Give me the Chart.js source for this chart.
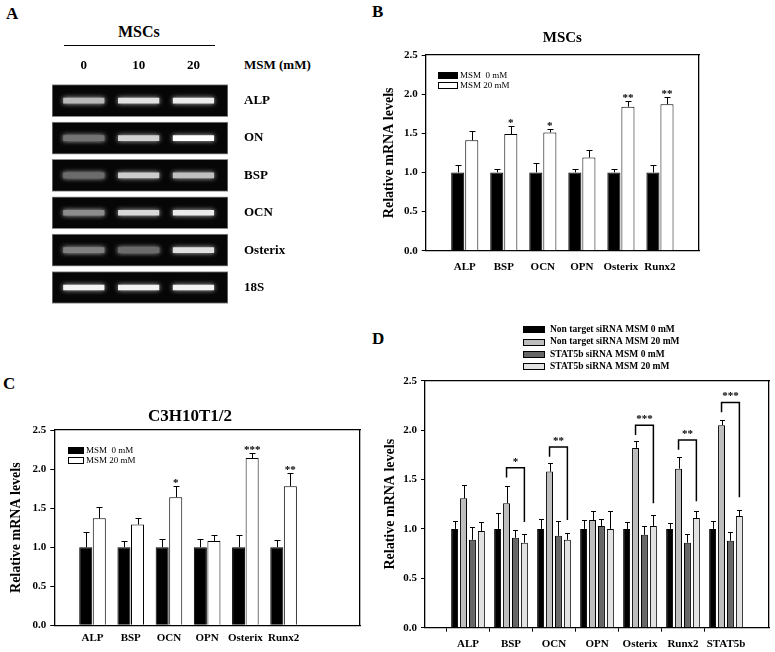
<!DOCTYPE html>
<html>
<head>
<meta charset="utf-8">
<script src="https://cdn.jsdelivr.net/npm/chart.js@4.4.0/dist/chart.umd.min.js"></script>
<style>
  body { margin: 0; background: #fff; width: 775px; height: 652px; position: relative; overflow: hidden;
         font-family: "Liberation Serif", "Times New Roman", serif; color: #000; }
  canvas { position: absolute; }
  .tag { position: absolute; font-weight: bold; font-size: 17px; line-height: 1; }
  .txt { position: absolute; font-weight: bold; white-space: nowrap; line-height: 1; }
</style>
</head>
<body>
<div class="tag" style="left:6px;top:5px">A</div>
<div class="tag" style="left:372px;top:3px">B</div>
<div class="tag" style="left:3px;top:375px">C</div>
<div class="tag" style="left:372px;top:330px">D</div>

<div class="txt" style="left:118px;top:24px;font-size:16px">MSCs</div>
<div style="position:absolute;left:64px;top:45px;width:151px;height:0;border-top:1.3px solid #000"></div>
<div class="txt" style="left:244px;top:58px;font-size:13px">MSM (mM)</div>

<canvas id="gel" width="300" height="330" style="left:0;top:0"></canvas>
<canvas id="msc" width="395" height="290" style="left:380px;top:0"></canvas>
<canvas id="c3h" width="380" height="322" style="left:0;top:330px"></canvas>
<canvas id="kd" width="395" height="352" style="left:380px;top:300px"></canvas>

<script>
// --- dados ---
// A: RT-PCR (intensidade relativa da banda, 0..1)
const laneLabels = ['0', '10', '20'];
const geneLabels = ['ALP', 'ON', 'BSP', 'OCN', 'Osterix', '18S'];
const bandLane0 = [0.72, 0.45, 0.42, 0.55, 0.50, 0.95];
const bandLane1 = [0.88, 0.82, 0.80, 0.85, 0.42, 0.95];
const bandLane2 = [0.92, 1.00, 0.75, 0.92, 0.88, 0.95];

// B: MSCs
const mscGenes = ['ALP', 'BSP', 'OCN', 'OPN', 'Osterix', 'Runx2'];
const msc0 = [1, 1, 1, 1, 1, 1];
const msc0Err = [0.09, 0.05, 0.12, 0.05, 0.05, 0.09];
const msc20 = [1.41, 1.49, 1.51, 1.19, 1.84, 1.87];
const msc20Err = [0.12, 0.10, 0.05, 0.10, 0.07, 0.09];
const msc20Sig = ['', '*', '*', '', '**', '**'];

// C: C3H10T1/2
const c3hGenes = ['ALP', 'BSP', 'OCN', 'OPN', 'Osterix', 'Runx2'];
const c3h0 = [1, 1, 1, 1, 1, 1];
const c3h0Err = [0.19, 0.08, 0.10, 0.11, 0.16, 0.09];
const c3h20 = [1.37, 1.29, 1.64, 1.08, 2.14, 1.78];
const c3h20Err = [0.15, 0.08, 0.14, 0.08, 0.07, 0.17];
const c3h20Sig = ['', '', '*', '', '***', '**'];

// D: siRNA STAT5b
const kdGenes = ['ALP', 'BSP', 'OCN', 'OPN', 'Osterix', 'Runx2', 'STAT5b'];
const ntMsm0 = [1, 1, 1, 1, 1, 1, 1];
const ntMsm0Err = [0.08, 0.16, 0.10, 0.09, 0.07, 0.06, 0.08];
const ntMsm20 = [1.31, 1.26, 1.58, 1.09, 1.82, 1.61, 2.05];
const ntMsm20Err = [0.13, 0.17, 0.09, 0.09, 0.07, 0.12, 0.05];
const siMsm0 = [0.89, 0.91, 0.93, 1.03, 0.94, 0.86, 0.88];
const siMsm0Err = [0.13, 0.08, 0.15, 0.07, 0.09, 0.09, 0.09];
const siMsm20 = [0.98, 0.86, 0.89, 1.00, 1.03, 1.11, 1.13];
const siMsm20Err = [0.09, 0.09, 0.07, 0.18, 0.11, 0.07, 0.06];
const kdBracketTop = [null, 1.62, 1.83, null, 2.05, 1.90, 2.28];
const kdBracketEnd = [null, 1.07, 1.09, null, 1.26, 1.28, 1.32];
const kdSig = ['', '*', '**', '', '***', '**', '***'];

const FONT = '"Liberation Serif", "Times New Roman", serif';
Chart.defaults.font.family = FONT;
Chart.defaults.color = '#000';
Chart.defaults.animation = false;
Chart.defaults.plugins.legend.display = false;
Chart.defaults.plugins.tooltip.enabled = false;

// categorias vazias nas pontas, como no SigmaPlot
const pad = (arr, before, after, fill) => [...Array(before).fill(fill), ...arr, ...Array(after).fill(fill)];

// --- plugins ---
const errorBars = {
    id: 'errorBars',
    afterDatasetsDraw(chart, args, opts) {
        const { ctx } = chart;
        const y = chart.scales.y;
        ctx.save();
        ctx.strokeStyle = '#000';
        ctx.fillStyle = '#000';
        ctx.lineWidth = 1;
        ctx.font = 'bold 11px ' + FONT;
        ctx.textAlign = 'center';
        ctx.textBaseline = 'alphabetic';
        chart.data.datasets.forEach((ds, di) => {
            chart.getDatasetMeta(di).data.forEach((bar, i) => {
                const v = ds.data[i];
                const e = ds.errors ? ds.errors[i] : null;
                if (v == null || e == null) return;
                const top = Math.round(y.getPixelForValue(v + e)) + 0.5;
                const x = Math.round(bar.x) + 0.5;
                const c = opts.cap / 2;
                ctx.beginPath();
                ctx.moveTo(x, bar.y);
                ctx.lineTo(x, top);
                ctx.moveTo(x - c, top);
                ctx.lineTo(x + c, top);
                ctx.stroke();
                const s = ds.stars ? ds.stars[i] : '';
                if (s) ctx.fillText(s, bar.x, top + opts.starDy);
            });
        });
        ctx.restore();
    }
};

const brackets = {
    id: 'brackets',
    afterDatasetsDraw(chart, args, o) {
        if (!o || !o.top) return;
        const { ctx } = chart;
        const y = chart.scales.y;
        const from = chart.getDatasetMeta(o.from).data;
        const to = chart.getDatasetMeta(o.to).data;
        ctx.save();
        ctx.strokeStyle = '#000';
        ctx.fillStyle = '#000';
        ctx.lineWidth = 1.5;
        ctx.font = 'bold 11px ' + FONT;
        ctx.textAlign = 'center';
        o.top.forEach((t, i) => {
            if (t == null) return;
            const x1 = from[i].x, x2 = to[i].x;
            const yt = y.getPixelForValue(t);
            ctx.beginPath();
            ctx.moveTo(x1, y.getPixelForValue(t - o.leg));
            ctx.lineTo(x1, yt);
            ctx.lineTo(x2, yt);
            ctx.lineTo(x2, y.getPixelForValue(o.end[i]));
            ctx.stroke();
            ctx.fillText(o.stars[i], (x1 + x2) / 2, yt + o.starDy);
        });
        ctx.restore();
    }
};

const boxLegend = {
    id: 'boxLegend',
    afterDraw(chart, args, o) {
        if (!o || o.x == null) return;
        const { ctx } = chart;
        ctx.save();
        ctx.font = o.font;
        ctx.textBaseline = 'middle';
        chart.data.datasets.forEach((ds, i) => {
            const cy = o.y + i * o.row;
            const top = Math.round(cy - o.h / 2) + 0.5;
            ctx.fillStyle = ds.backgroundColor;
            ctx.fillRect(o.x + 0.5, top, o.w, o.h);
            ctx.strokeStyle = '#000';
            ctx.lineWidth = 1;
            ctx.strokeRect(o.x + 0.5, top, o.w, o.h);
            ctx.fillStyle = '#000';
            ctx.fillText(ds.label, o.x + o.w + o.gap, cy + 0.5);
        });
        ctx.restore();
    }
};

const gelGlow = {
    id: 'gelGlow',
    beforeDatasetDraw(chart, args) {
        if (!chart.data.datasets[args.index].band) return;
        chart.ctx.save();
        chart.ctx.shadowColor = 'rgba(255,255,255,0.75)';
        chart.ctx.shadowBlur = 5;
    },
    afterDatasetDraw(chart, args) {
        if (chart.data.datasets[args.index].band) chart.ctx.restore();
    }
};

// --- A: gel ---
const gray = v => { const c = Math.round(v * 255); return `rgb(${c},${c},${c})`; };
const gelSpan = [-0.58, 2.63];
const bandHalf = 0.37;

new Chart(document.getElementById('gel'), {
    type: 'bar',
    data: {
        labels: geneLabels,
        datasets: [
            {
                label: 'gel', data: geneLabels.map(() => gelSpan),
                backgroundColor: '#060606', borderColor: '#8c8c8c', borderWidth: 1, borderSkipped: false,
                barThickness: 32, grouped: false, order: 5
            },
            ...[bandLane0, bandLane1, bandLane2].map((lane, li) => ({
                label: laneLabels[li], band: true,
                data: lane.map(() => [li - bandHalf, li + bandHalf]),
                backgroundColor: lane.map(gray), borderWidth: 0,
                barThickness: 5, grouped: false, order: 1
            }))
        ]
    },
    options: {
        indexAxis: 'y',
        responsive: false,
        layout: { padding: { left: 52, right: 0, top: 0, bottom: 6 } },
        scales: {
            x: {
                type: 'linear', position: 'top', min: gelSpan[0], max: gelSpan[1],
                grid: { display: false, drawTicks: false }, border: { display: false },
                afterBuildTicks: s => { s.ticks = laneLabels.map((_, i) => ({ value: i })); },
                ticks: { padding: 9, font: { size: 13, weight: 'bold' }, callback: (v, i) => laneLabels[i] },
                afterFit: s => { s.height = 82; }
            },
            y: {
                position: 'right', offset: true,
                grid: { display: false, drawTicks: false }, border: { display: false },
                ticks: { padding: 16, font: { size: 13, weight: 'bold' } },
                afterFit: s => { s.width = 72; }
            }
        }
    },
    plugins: [gelGlow]
});

// --- B, C, D: barras ---
const boxBorder = { display: true, color: '#000', width: 1.3 };

function barPanel(id, cfg) {
    const scales = {
        x: {
            offset: false,
            grid: {
                display: cfg.xTicks, drawOnChartArea: false, drawTicks: cfg.xTicks, tickLength: 4,
                color: c => (c.tick && c.tick.label !== '') ? '#000' : 'rgba(0,0,0,0)'
            },
            border: boxBorder,
            ticks: { autoSkip: false, maxRotation: 0, padding: cfg.xPad, font: { size: 11, weight: 'bold' } },
            afterFit: s => { s.height = cfg.xHeight; }
        },
        y: {
            min: 0, max: 2.5,
            grid: { drawOnChartArea: false, tickLength: 4, color: '#000' },
            border: boxBorder,
            ticks: { stepSize: 0.5, padding: 4, font: { size: 11, weight: 'bold' }, callback: v => v.toFixed(1) },
            title: {
                display: true, text: 'Relative mRNA levels', font: { size: 14, weight: 'bold' },
                padding: { top: cfg.yTitlePad, bottom: 0 }
            },
            afterFit: s => { s.width = cfg.yWidth; }
        },
        // eixos vazios em cima e à direita, só para fechar a caixa
        xTop: {
            type: 'linear', position: 'top', grid: { display: false, drawTicks: false }, border: boxBorder,
            ticks: { display: false }, afterFit: s => { s.height = 0; }
        },
        yRight: {
            type: 'linear', position: 'right', grid: { display: false, drawTicks: false }, border: boxBorder,
            ticks: { display: false }, afterFit: s => { s.width = cfg.rightGap || 0; }
        }
    };
    return new Chart(document.getElementById(id), {
        type: 'bar',
        data: { labels: cfg.labels, datasets: cfg.datasets },
        options: {
            responsive: false,
            layout: { padding: cfg.padding },
            datasets: { bar: { categoryPercentage: cfg.catPct, barPercentage: cfg.barPct, borderColor: '#000', borderWidth: 1 } },
            scales,
            plugins: {
                title: cfg.title || { display: false },
                boxLegend: cfg.legend,
                brackets: cfg.brackets || {},
                errorBars: { cap: cfg.cap, starDy: -1 }
            }
        },
        plugins: [errorBars, brackets, boxLegend]
    });
}

barPanel('msc', {
    labels: pad(mscGenes, 1, 1, ''),
    datasets: [
        { label: 'MSM  0 mM', data: pad(msc0, 1, 1, null), errors: pad(msc0Err, 1, 1, null), backgroundColor: '#000' },
        { label: 'MSM 20 mM', data: pad(msc20, 1, 1, null), errors: pad(msc20Err, 1, 1, null), stars: pad(msc20Sig, 1, 1, ''), backgroundColor: '#fff' }
    ],
    padding: { left: 0, right: 76, top: 0, bottom: 0 },
    catPct: 0.72, barPct: 0.93, cap: 6,
    xTicks: false, xPad: 10, xHeight: 39.3,
    yWidth: 45.7, yTitlePad: 0.6,
    title: { display: true, text: 'MSCs', fullSize: false, font: { size: 15, weight: 'bold' }, padding: { top: 29, bottom: 8 } },
    legend: { x: 58, y: 75, w: 19, h: 6, row: 10, gap: 3, font: '9px ' + FONT }
});

barPanel('c3h', {
    labels: pad(c3hGenes, 1, 2, ''),
    datasets: [
        { label: 'MSM  0 mM', data: pad(c3h0, 1, 2, null), errors: pad(c3h0Err, 1, 2, null), backgroundColor: '#000' },
        { label: 'MSM 20 mM', data: pad(c3h20, 1, 2, null), errors: pad(c3h20Err, 1, 2, null), stars: pad(c3h20Sig, 1, 2, ''), backgroundColor: '#fff' }
    ],
    padding: { left: 0, right: 0, top: 0, bottom: 0 },
    rightGap: 20,
    catPct: 0.71, barPct: 0.96, cap: 6,
    xTicks: false, xPad: 6, xHeight: 26.7,
    yWidth: 54.3, yTitlePad: 8.3,
    title: { display: true, text: 'C3H10T1/2', font: { size: 17, weight: 'bold' }, padding: { top: 76.5, bottom: 3.1 } },
    legend: { x: 68, y: 120, w: 15, h: 6, row: 10, gap: 3, font: '9px ' + FONT }
});

barPanel('kd', {
    labels: pad(kdGenes, 1, 1, ''),
    datasets: [
        { label: 'Non target siRNA MSM 0 mM', data: pad(ntMsm0, 1, 1, null), errors: pad(ntMsm0Err, 1, 1, null), backgroundColor: '#000' },
        { label: 'Non target siRNA MSM 20 mM', data: pad(ntMsm20, 1, 1, null), errors: pad(ntMsm20Err, 1, 1, null), backgroundColor: '#bdbdbd' },
        { label: 'STAT5b siRNA MSM 0 mM', data: pad(siMsm0, 1, 1, null), errors: pad(siMsm0Err, 1, 1, null), backgroundColor: '#666666' },
        { label: 'STAT5b siRNA MSM 20 mM', data: pad(siMsm20, 1, 1, null), errors: pad(siMsm20Err, 1, 1, null), backgroundColor: '#e2e2e2' }
    ],
    padding: { left: 0, right: 2.6, top: 80.7, bottom: 0 },
    catPct: 0.83, barPct: 0.78, cap: 5,
    xTicks: true, xPad: 6, xHeight: 24.3,
    yWidth: 45, yTitlePad: 1.6,
    legend: { x: 143, y: 29.3, w: 21, h: 6, row: 12.2, gap: 6, font: 'bold 9.5px ' + FONT },
    brackets: {
        from: 1, to: 3, leg: 0.1, starDy: -3,
        top: pad(kdBracketTop, 1, 1, null), end: pad(kdBracketEnd, 1, 1, null), stars: pad(kdSig, 1, 1, '')
    }
});
</script>
</body>
</html>
